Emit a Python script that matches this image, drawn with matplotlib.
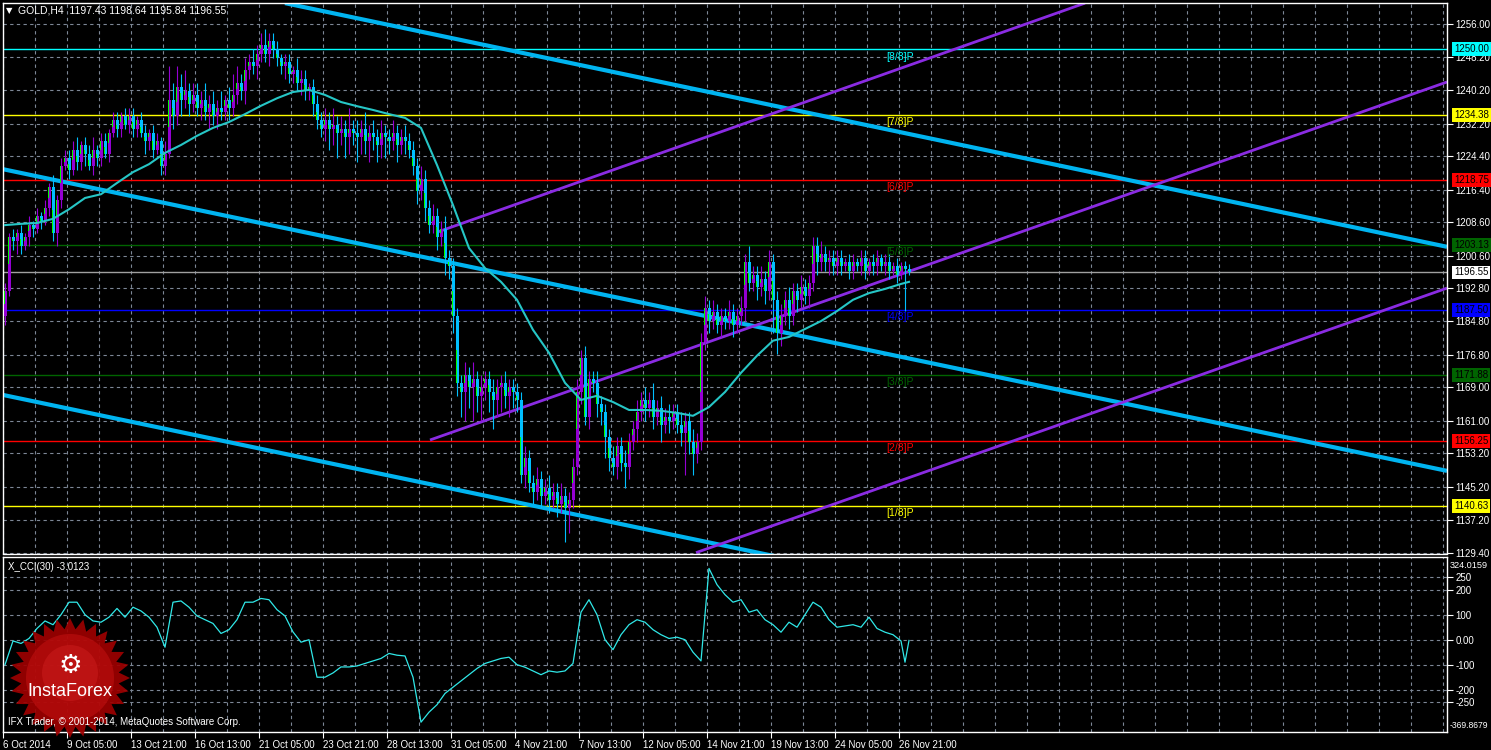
import numpy as np
import matplotlib
matplotlib.use('Agg')
import matplotlib.pyplot as plt
import matplotlib.transforms as mtrans
from matplotlib.patches import Polygon, Circle

plt.rcParams['font.family'] = ['Liberation Sans', 'DejaVu Sans']
FS = 7

W, H = 1491, 750

# ---- GOLD H4 candles (6 Oct - 26 Nov 2014) ----
first_open = 1186.0
closes = [1192, 1205, 1204, 1206, 1203, 1205, 1208, 1207, 1210, 1209, 1212, 1217, 1206, 1214, 1222, 1224,
          1221, 1226, 1223, 1227, 1225, 1222, 1226, 1224, 1228, 1225, 1230, 1233, 1231, 1234, 1232, 1234,
          1231, 1233, 1230, 1228, 1230, 1226, 1228, 1222, 1225, 1238, 1234, 1241, 1238, 1240, 1237, 1239,
          1236, 1238, 1235, 1237, 1234, 1236, 1235, 1238, 1236, 1239, 1242, 1240, 1245, 1247, 1246, 1249,
          1251, 1249, 1252, 1250, 1248, 1246, 1247, 1244, 1245, 1242, 1243, 1240, 1241, 1237, 1233, 1231,
          1233, 1231, 1232, 1230, 1231, 1229, 1231, 1230, 1229, 1231, 1228, 1230, 1229, 1227, 1230, 1229,
          1228, 1230, 1227, 1229, 1228, 1226, 1222, 1216, 1219, 1212, 1208, 1210, 1205, 1207, 1200, 1198,
          1186, 1170, 1168, 1172, 1169, 1171, 1167, 1169, 1171, 1168, 1166, 1169, 1170, 1167, 1169, 1168,
          1166, 1148, 1152, 1146, 1144, 1147, 1143, 1145, 1142, 1144, 1141, 1143, 1140, 1142, 1150, 1168,
          1176, 1162, 1171, 1170, 1165, 1163, 1157, 1152, 1150, 1155, 1151, 1150, 1156, 1159, 1163, 1166,
          1164, 1166, 1162, 1164, 1160, 1162, 1161, 1163, 1160, 1158, 1161, 1156, 1153, 1156, 1180, 1188,
          1185, 1187, 1184, 1186, 1185, 1187, 1184, 1186, 1188, 1199, 1194, 1196, 1193, 1195, 1192, 1199,
          1190, 1182, 1186, 1190, 1186, 1192, 1190, 1193, 1191, 1194, 1203, 1199, 1201, 1199, 1200, 1198,
          1200, 1198, 1199, 1197, 1199, 1198, 1200, 1197, 1199, 1198, 1200, 1198, 1199, 1197, 1198, 1196,
          1198, 1197.43, 1196.55]
upper_wick = [2, 1, 2, 1, 2, 1, 2, 1, 2, 1, 2, 1, 3, 1, 2, 2,
              2, 2, 3, 1, 2, 2, 3, 1, 2, 2, 1, 2, 2, 1, 2, 2,
              2, 1, 2, 2, 1, 2, 2, 1, 3, 8, 4, 5, 3, 5, 2, 3,
              3, 2, 4, 2, 3, 2, 4, 1, 3, 5, 4, 2, 3, 2, 3, 2,
              3, 4, 2, 2, 2, 1, 2, 2, 1, 3, 2, 2, 1, 2, 2, 2,
              3, 2, 4, 2, 3, 2, 5, 2, 3, 2, 4, 2, 3, 2, 3, 2,
              2, 3, 2, 2, 3, 2, 2, 2, 3, 2, 2, 3, 2, 2, 3, 2,
              2, 2, 2, 3, 2, 4, 2, 3, 2, 2, 3, 2, 2, 3, 2, 2,
              2, 2, 3, 2, 2, 3, 2, 2, 3, 2, 2, 3, 2, 2, 2, 3,
              2, 3, 2, 2, 3, 2, 2, 2, 3, 2, 2, 3, 2, 2, 3, 2,
              3, 2, 4, 2, 3, 2, 3, 2, 2, 3, 2, 2, 3, 2, 2, 3,
              2, 3, 2, 2, 2, 3, 2, 2, 3, 2, 4, 2, 2, 3, 2, 3,
              2, 2, 3, 2, 3, 2, 2, 3, 2, 2, 2, 2, 3, 2, 2, 2,
              2, 2, 1, 2, 2, 1, 2, 2, 1, 2, 2, 1, 2, 2, 1, 2,
              1, 1.2, 1.21]
lower_wick = [2, 1, 2, 3, 2, 1, 2, 2, 1, 2, 1, 2, 2, 3, 2, 1,
              2, 1, 2, 2, 3, 1, 2, 2, 2, 1, 2, 1, 2, 2, 1, 2,
              2, 2, 1, 3, 2, 2, 1, 2, 2, 1, 3, 2, 4, 2, 3, 2,
              2, 3, 2, 4, 2, 3, 2, 2, 3, 2, 2, 2, 3, 2, 2, 3,
              2, 2, 3, 2, 2, 2, 3, 2, 2, 2, 3, 2, 2, 3, 2, 2,
              3, 5, 4, 6, 3, 5, 4, 3, 6, 4, 3, 5, 3, 4, 3, 5,
              3, 2, 4, 2, 3, 2, 2, 3, 2, 3, 2, 2, 3, 2, 4, 3,
              4, 3, 6, 7, 5, 8, 4, 6, 3, 5, 7, 4, 6, 3, 5, 4,
              3, 2, 3, 2, 3, 2, 3, 2, 3, 2, 3, 2, 8, 6, 2, 2,
              3, 2, 3, 2, 3, 3, 5, 3, 2, 3, 2, 5, 3, 2, 3, 2,
              3, 2, 3, 2, 4, 2, 3, 2, 2, 3, 10, 3, 5, 2, 2, 2,
              3, 2, 2, 3, 2, 2, 3, 2, 2, 3, 2, 2, 3, 2, 3, 2,
              8, 5, 3, 2, 3, 2, 3, 2, 2, 3, 2, 3, 2, 2, 3, 2,
              2, 2, 1, 2, 2, 1, 2, 2, 1, 2, 2, 1, 2, 2, 1, 2,
              1, 10, 0.71]

# moving average, read every 4th bar
ma_values = [1207.9, 1208.2, 1208.4, 1209.4, 1211.7, 1214.4, 1215.3, 1218.0, 1220.6, 1222.5,
             1225.2, 1227.1, 1229.3, 1231.2, 1232.6, 1234.5, 1236.5, 1238.3, 1239.8, 1240.3,
             1239.1, 1237.4, 1236.4, 1235.5, 1234.5, 1233.6, 1231.2, 1222.3, 1212.7, 1202.4,
             1197.6, 1194.3, 1190.0, 1182.8, 1177.3, 1170.1, 1166.0, 1167.0, 1165.5, 1163.6,
             1163.6, 1163.4, 1162.9, 1162.2, 1164.3, 1167.9, 1172.5, 1176.6, 1180.2, 1181.1,
             1183.0, 1184.9, 1187.3, 1190.0, 1191.6, 1192.6, 1193.8, 1194.3]
ma_step = 4

# X_CCI(30), read every 2nd bar, last two bars separately
cci_values = [-100, -5, -15, 5, 45, 75, 60, 100, 150, 150, 100, 75, 70, 90, 125, 90, 130, 115, 90, 50,
              -30, 150, 155, 130, 95, 80, 65, 25, 40, 80, 150, 150, 165, 160, 120, 95, 31, -10, 0, -150,
              -150, -133, -109, -109, -105, -95, -85, -75, -55, -62, -65, -150, -330, -290, -260, -215, -190, -165, -140, -115,
              -95, -85, -75, -70, -100, -110, -125, -140, -125, -130, -125, -95, 110, 160, 100, 0, -40, 20, 60, 80,
              70, 40, 20, 5, 10, 0, -50, -85, 285, 220, 180, 150, 160, 110, 120, 80, 60, 30, 70, 50,
              100, 150, 130, 80, 50, 55, 60, 50, 90, 45, 30, 20, -5]
cci_last = [-90, -3.0123]

# horizontal levels (Murrey math) and bid
murrey_levels = [1250.00, 1234.38, 1218.75, 1203.13, 1187.50, 1171.88, 1156.25, 1140.63]
murrey_names = ['[8/8]P', '[7/8]P', '[6/8]P', '[5/8]P', '[4/8]P', '[3/8]P', '[2/8]P', '[1/8]P']
murrey_colors = ['#00ffff', '#ffff00', '#ff0000', '#006400', '#0000ff', '#006400', '#ff0000', '#ffff00']
bid = 1196.55

# trend channels: (bar, price) end points
blue_lines = [((70.0, 1261.1), (360.5, 1202.7)),
              ((-0.5, 1221.3), (360.5, 1149.0)),
              ((-0.5, 1167.2), (360.5, 1094.9))]
purple_lines = [((108.0, 1206.2), (270.0, 1261.1)),
                ((106.25, 1156.4), (360.5, 1242.2)),
                ((172.75, 1129.4), (360.5, 1192.8))]

price_ticks = [1256.00, 1248.20, 1240.20, 1232.20, 1224.40, 1216.40, 1208.60, 1200.60, 1192.80,
               1184.80, 1176.80, 1169.00, 1161.00, 1153.20, 1145.20, 1137.20, 1129.40]
cci_ticks = [250, 200, 100, 0, -100, -200, -250]
cci_tick_labels = ['250', '200', '100', '0.00', '-100', '-200', '-250']
time_labels = ['6 Oct 2014', '9 Oct 05:00', '13 Oct 21:00', '16 Oct 13:00', '21 Oct 05:00',
               '23 Oct 21:00', '28 Oct 13:00', '31 Oct 05:00', '4 Nov 21:00', '7 Nov 13:00',
               '12 Nov 05:00', '14 Nov 21:00', '19 Nov 13:00', '24 Nov 05:00', '26 Nov 21:00']

UP = '#9400d3'
DOWN = '#00bfff'
GREEN = '#00ff00'
GRID = '#7d8796'
BLUE_T = '#00b4f0'
PURPLE_T = '#8a2be2'


def px_axes(fig, x0, y0, x1, y1):
    return fig.add_axes([x0 / W, 1 - y1 / H, (x1 - x0) / W, (y1 - y0) / H])


fig = plt.figure(figsize=(W / 100, H / 100), dpi=100, facecolor='black')
ax = px_axes(fig, 3, 2.7, 1447, 553.5)
ax2 = px_axes(fig, 3, 557, 1447, 732)

for a in (ax, ax2):
    a.set_facecolor('black')
    for s in a.spines.values():
        s.set_color('white')
        s.set_linewidth(1)
    a.set_xlim(-0.5, 360.5)
    a.set_xticks([16 * m - 0.5 for m in range(len(time_labels))])
    a.set_xticks([8 * k - 0.5 for k in range(46)], minor=True)
    a.grid(True, which='both', axis='x', color=GRID, lw=0.8, ls=(0, (3, 3)))
    a.grid(True, which='major', axis='y', color=GRID, lw=0.8, ls=(0, (3, 3)))
    a.yaxis.tick_right()
    a.tick_params(axis='y', colors='white', length=4, width=0.8, labelsize=FS, pad=2)
    a.tick_params(axis='x', which='minor', length=0)
    a.set_axisbelow(True)

ax.tick_params(axis='x', which='major', length=0, labelbottom=False)
ax2.tick_params(axis='x', which='major', colors='white', length=4, width=0.8, labelsize=FS, pad=1.5)
ax2.set_xticklabels(time_labels)
for lab in ax2.get_xticklabels():
    lab.set_ha('left')

# ---- main price panel ----
ax.set_ylim(1129.2, 1261.2)
ax.set_yticks(price_ticks)
ax.set_yticklabels(['%.2f' % p for p in price_ticks])

for lev, col in zip(murrey_levels, murrey_colors):
    ax.axhline(lev, color=col, lw=1, zorder=1)
ax.axhline(bid, color='#a0a0a0', lw=1, zorder=1)

for (p0, p1) in blue_lines:
    ax.plot([p0[0], p1[0]], [p0[1], p1[1]], color=BLUE_T, lw=3.0, zorder=2, solid_capstyle='butt')
for (p0, p1) in purple_lines:
    ax.plot([p0[0], p1[0]], [p0[1], p1[1]], color=PURPLE_T, lw=2.0, zorder=2, solid_capstyle='butt')

x = np.arange(len(closes))
c = np.array(closes, dtype=float)
o = np.r_[first_open, c[:-1]]
hi = np.maximum(o, c) + np.array(upper_wick)
lo = np.minimum(o, c) - np.array(lower_wick)
up = c >= o
cols = np.where(up, UP, DOWN)
ax.vlines(x, lo, hi, colors=cols, lw=0.8, zorder=3)
body_lo = np.minimum(o, c)
body_h = np.maximum(np.abs(c - o), 0.3)
ax.bar(x, body_h, bottom=body_lo, width=0.75, color=cols, lw=0, zorder=4)
# green part of the body near the close
g_h = body_h * 0.5
g_bot = np.where(up, c - g_h, c)
ax.bar(x - 0.19, g_h, bottom=g_bot, width=0.37, color=GREEN, lw=0, zorder=4)

ma_x = np.arange(len(ma_values)) * ma_step
ma_x[-1] = len(closes) - 1
ax.plot(ma_x, ma_values, color='#26c6c6', lw=1.5, zorder=5)

for lev, name, col in zip(murrey_levels, murrey_names, murrey_colors):
    ax.annotate(name, (220.2, lev), xytext=(0, -1.5), textcoords='offset points',
                color=col, fontsize=FS + 0.5, va='top', ha='left', zorder=6)

tr = mtrans.blended_transform_factory(ax.transAxes, ax.transData)
for lev, col in zip(murrey_levels + [bid], murrey_colors + ['#ffffff']):
    ax.text(1.0048, lev, '%.2f' % lev, transform=tr, color='black', fontsize=FS, va='center',
            ha='left', zorder=10, clip_on=False,
            bbox=dict(boxstyle='square,pad=0.2', fc=col, ec='none'))

# ---- CCI panel ----
ax2.set_ylim(-369.2, 330.8)
ax2.set_yticks(cci_ticks)
ax2.set_yticklabels(cci_tick_labels)
cx = np.r_[np.arange(len(cci_values)) * 2, len(closes) - 2, len(closes) - 1]
cy = np.r_[cci_values, cci_last]
ax2.plot(cx, cy, color='#30e8e8', lw=0.9, zorder=5)
tr2 = mtrans.blended_transform_factory(ax2.transAxes, ax2.transData)
ax2.text(1.002, 298, '324.0159', transform=tr2, color='white', fontsize=6.6, va='center')
ax2.text(1.002, -345, '-369.8679', transform=tr2, color='white', fontsize=6.2, va='center')

# ---- overlay: header texts and logo ----
ov = fig.add_axes([0, 0, 1, 1], zorder=20)
ov.set_xlim(0, W)
ov.set_ylim(H, 0)
ov.axis('off')
ov.patch.set_alpha(0)

ov.text(6, 10.5, '\u25bc', color='white', fontsize=6, va='center', family='DejaVu Sans')
ov.text(18, 10.5, 'GOLD,H4  1197.43 1198.64 1195.84 1196.55', color='white', fontsize=FS + 0.5,
        va='center')
ov.text(8, 567, 'X_CCI(30) -3.0123', color='white', fontsize=FS, va='center')
ov.text(8, 722, 'IFX Trader, \u00a9 2001-2014, MetaQuotes Software Corp.', color='white', fontsize=FS,
        va='center')

cxl, cyl = 70, 678
n_pts = 28
ang = np.linspace(0, 2 * np.pi, 2 * n_pts, endpoint=False) - np.pi / 2
rad = np.where(np.arange(2 * n_pts) % 2 == 0, 60, 49)
star = np.c_[cxl + rad * np.cos(ang), cyl + rad * np.sin(ang)]
ov.add_patch(Polygon(star, closed=True, fc='#9c0000', ec='none', alpha=0.93))
ov.add_patch(Circle((cxl, cyl), 44, fc='#c01010', ec='none', alpha=0.6))
ov.add_patch(Circle((cxl, cyl - 5), 28, fc='#d02020', ec='none', alpha=0.45))
ov.text(cxl, 666, '\u2699', color='white', fontsize=19, ha='center', va='center', family='DejaVu Sans')
ov.text(cxl, 692, 'InstaForex', color='white', fontsize=13, ha='center', va='center',
        family=['Liberation Sans', 'DejaVu Sans'])

fig.savefig('out.png', dpi=100, facecolor='black')
